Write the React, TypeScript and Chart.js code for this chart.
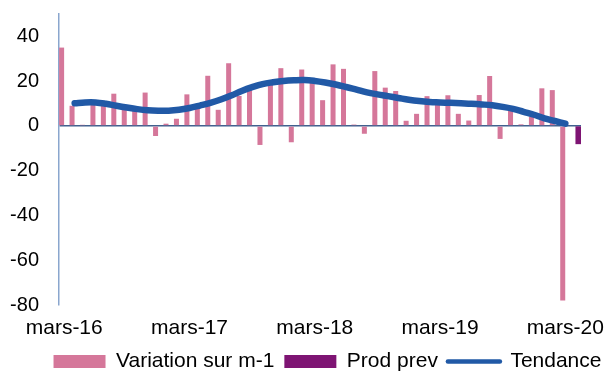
import { useEffect, useRef } from 'react';
import { Chart, registerables } from 'chart.js';

Chart.register(...registerables);

// Monthly categories, mars-16 through avr.-20
const MONTH_NAMES = ['janv.', 'févr.', 'mars', 'avr.', 'mai', 'juin', 'juil.', 'août', 'sept.', 'oct.', 'nov.', 'déc.'];
const categories: string[] = Array.from({ length: 50 }, (_, i) => {
  const m = (2 + i) % 12;
  const y = 16 + Math.floor((2 + i) / 12);
  return `${MONTH_NAMES[m]}-${y}`;
});

const xTickLabels = ['mars-16', 'mars-17', 'mars-18', 'mars-19', 'mars-20'];
const yTickValues = [-80, -60, -40, -20, 0, 20, 40];

// Variation sur m-1 (monthly change)
const variation: (number | null)[] = [
  35, 9, 0.5, 9.5, 9.2, 14.4, 8, 7.1, 14.9, -4.5,
  1, 3.2, 14.1, 8.2, 22.4, 7.2, 28, 13.4, 16.2, -8.5,
  18.7, 25.8, -7.3, 25.2, 19.2, 11.5, 27.5, 25.5, 0.6, -3.5,
  24.5, 17.1, 15.6, 2.3, 5.4, 13.3, 10.6, 13.7, 5.4, 2.4,
  13.8, 22.3, -5.8, 8.8, 0.7, 4.2, 16.8, 16, -78, null,
];

// Forecast production for the last month
const prodPrev: (number | null)[] = [
  ...Array(49).fill(null), -8,
];

// Smoothed trend
const tendance: (number | null)[] = [
  null, 10.1, 10.5, 10.5, 9.9, 9.0, 8.2, 7.5, 7.0, 6.8,
  6.8, 7.2, 8.0, 9.1, 10.3, 11.8, 13.6, 15.6, 17.3, 18.7,
  19.5, 20.1, 20.4, 20.5, 20.1, 19.4, 18.5, 17.4, 16.2, 15.0,
  14.1, 13.3, 12.5, 11.7, 11.1, 10.7, 10.5, 10.3, 10.1, 9.9,
  9.6, 9.2, 8.5, 7.6, 6.3, 5.0, 3.4, 2.2, 1.0, null,
];

const PINK = '#D5779A';
const PURPLE = '#7E1473';
const BLUE = '#2159A6';
const ZERO_LINE = '#41618F';
const Y_AXIS = '#8AA6CE';
const FAMILY = '"Liberation Sans", Arial, sans-serif';
const FONT = { family: FAMILY, size: 21 };
const Y_FONT = { family: FAMILY, size: 20 };

// Nudges the legend row to the right so it sits under the plot
const legendOffset = {
  id: 'legendOffset',
  afterLayout(chart: any) {
    const l = chart.legend;
    if (l) {
      l.left += 25;
      l.right += 25;
    }
  },
};

export default function App() {
  const canvasRef = useRef<HTMLCanvasElement | null>(null);

  useEffect(() => {
    const canvas = canvasRef.current;
    if (!canvas) return;

    const chart = new Chart(canvas, {
      type: 'bar',
      data: {
        labels: categories,
        datasets: [
          {
            type: 'bar',
            label: 'Variation sur m-1',
            data: variation,
            backgroundColor: PINK,
            barPercentage: 0.96,
            categoryPercentage: 1,
            order: 1,
          },
          {
            type: 'bar',
            label: 'Prod prev',
            data: prodPrev,
            backgroundColor: PURPLE,
            barPercentage: 1,
            categoryPercentage: 1,
            order: 1,
          },
          {
            type: 'line',
            label: 'Tendance',
            data: tendance,
            borderColor: BLUE,
            backgroundColor: BLUE,
            borderWidth: 6.5,
            pointRadius: 0,
            tension: 0.4,
            borderCapStyle: 'round',
            borderJoinStyle: 'round',
            fill: false,
            order: 0,
          },
        ] as any,
      },
      options: {
        animation: false,
        responsive: true,
        maintainAspectRatio: false,
        layout: { padding: { left: 0, right: 0, top: 14, bottom: 0 } },
        plugins: {
          tooltip: { enabled: false },
          legend: {
            position: 'bottom',
            labels: {
              usePointStyle: true,
              pointStyleWidth: 52,
              boxHeight: 13,
              padding: 10,
              color: '#000',
              font: FONT,
              generateLabels: (c: any) =>
                c.data.datasets.map((ds: any, i: number) => ({
                  text: ds.label,
                  fillStyle: i === 2 ? 'rgba(0,0,0,0)' : ds.backgroundColor,
                  strokeStyle: i === 2 ? ds.borderColor : ds.backgroundColor,
                  lineWidth: i === 2 ? 4.5 : 0,
                  lineCap: 'round',
                  pointStyle: i === 2 ? 'line' : 'rect',
                  datasetIndex: i,
                  hidden: false,
                  fontColor: '#000',
                })),
            },
          },
        },
        scales: {
          x: {
            grid: { display: false, drawTicks: false },
            border: { display: false },
            afterFit: (s: any) => {
              s.height = 36;
            },
            ticks: {
              autoSkip: false,
              maxRotation: 0,
              padding: 11,
              color: '#000',
              font: FONT,
              callback: (_v: any, i: number) =>
                xTickLabels.includes(categories[i]) ? categories[i] : '',
            },
          },
          y: {
            min: -80,
            max: 50,
            afterBuildTicks: (s: any) => {
              s.ticks = yTickValues.map((v) => ({ value: v }));
            },
            afterFit: (s: any) => {
              s.width = 59;
              s.paddingTop = 0;
              s.paddingBottom = 0;
            },
            grid: {
              drawTicks: false,
              color: (ctx: any) => (ctx.tick && ctx.tick.value === 0 ? ZERO_LINE : 'rgba(0,0,0,0)'),
              lineWidth: 1.5,
            },
            border: { color: Y_AXIS, width: 1.5 },
            ticks: { padding: 20, color: '#000', font: Y_FONT },
          },
          yR: {
            type: 'linear',
            position: 'right',
            grid: { display: false, drawTicks: false },
            border: { display: false },
            ticks: { display: false },
            afterFit: (s: any) => {
              s.width = 24;
              s.paddingTop = 0;
              s.paddingBottom = 0;
            },
          },
        },
      } as any,
      plugins: [legendOffset],
    });

    return () => chart.destroy();
  }, []);

  return (
    <div style={{ position: 'fixed', left: 0, top: 0, width: 605, height: 382, background: '#fff' }}>
      <canvas ref={canvasRef} />
    </div>
  );
}
